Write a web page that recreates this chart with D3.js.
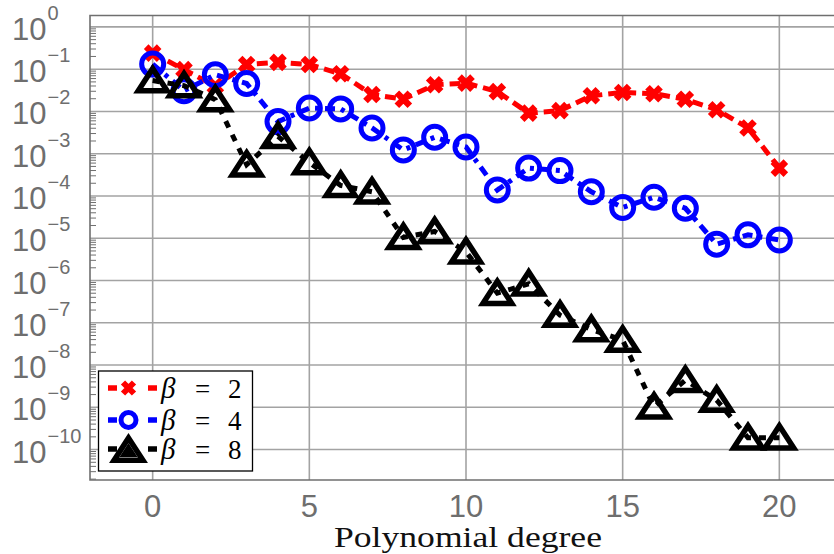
<!DOCTYPE html>
<html>
<head>
<meta charset="utf-8">
<script src="https://cdn.jsdelivr.net/npm/d3@7"></script>
<style>
  html, body { margin: 0; padding: 0; background: #fff; }
  svg { display: block; }
</style>
</head>
<body>
<svg id="chart" width="834" height="554"></svg>
<script>
// polynomial degree on x, coefficient magnitude (log10)
const degrees = d3.range(0, 21)
const beta2Exp = [-0.62, -1.01, -1.4, -0.89, -0.84, -0.89, -1.11, -1.6, -1.71, -1.37, -1.33,
  -1.53, -2.04, -1.98, -1.63, -1.55, -1.58, -1.71, -1.96, -2.39, -3.34]
const beta4Exp = [-0.88, -1.51, -1.13, -1.34, -2.24, -1.92, -1.94, -2.39, -2.91, -2.61, -2.84,
  -3.86, -3.34, -3.4, -3.9, -4.27, -4.03, -4.29, -5.14, -4.92, -5.04]
const beta8Exp = [-1.27, -1.39, -1.72, -3.26, -2.59, -3.21, -3.75, -3.9, -4.98, -4.84, -5.32,
  -6.3, -6.08, -6.82, -7.16, -7.41, -8.99, -8.36, -8.83, -9.72, -9.72]
const seriesLabels = ["2", "4", "8"]
const xTicks = [0, 5, 10, 15, 20]
const yTickExps = d3.range(0, -11, -1)

const AXIS_GRAY = "#6f6f6f"
const GRID_GRAY = "#a3a3a3"
const LABEL_GRAY = "#6e6e6e"

const svg = d3.select("#chart")
const plot = { left: 90, top: 15.5, right: 842, bottom: 480 }

const x = d3.scaleLinear().domain([-2, 22]).range([plot.left, plot.right])
const y = d3.scaleLog()
  .domain([Math.pow(10, -10.72), Math.pow(10, 0.27)])
  .range([plot.bottom, plot.top])

// grid
const grid = svg.append("g").attr("class", "grid")
grid.selectAll("line.gx").data(xTicks).join("line")
  .attr("x1", d => x(d)).attr("x2", d => x(d))
  .attr("y1", plot.top).attr("y2", plot.bottom)
  .attr("stroke", GRID_GRAY).attr("stroke-width", 1.6)
grid.selectAll("line.gy").data(yTickExps).join("line")
  .attr("x1", plot.left).attr("x2", plot.right)
  .attr("y1", d => y(Math.pow(10, d))).attr("y2", d => y(Math.pow(10, d)))
  .attr("stroke", GRID_GRAY).attr("stroke-width", 1.6)

// minor log ticks on the left spine (inside)
const minor = []
for (let e = -11; e <= 0; e++) {
  for (let m = 2; m <= 9; m++) {
    const v = m * Math.pow(10, e)
    if (v > y.domain()[0] && v < y.domain()[1]) minor.push(v)
  }
}
svg.append("g").selectAll("line").data(minor).join("line")
  .attr("x1", plot.left).attr("x2", plot.left + 6)
  .attr("y1", d => y(d)).attr("y2", d => y(d))
  .attr("stroke", AXIS_GRAY).attr("stroke-width", 1)

// frame (right side is off the page)
svg.append("path")
  .attr("d", `M${plot.right},${plot.top}H${plot.left}V${plot.bottom}H${plot.right}`)
  .attr("fill", "none").attr("stroke", AXIS_GRAY).attr("stroke-width", 1.6)

// y tick labels 10^k, left aligned
const yLab = svg.append("g").attr("font-family", "'Liberation Sans', Arial, sans-serif")
  .attr("fill", LABEL_GRAY)
yTickExps.forEach(e => {
  const t = yLab.append("text")
    .attr("x", 12).attr("y", y(Math.pow(10, e)) + 13)
    .attr("font-size", 31)
  t.append("tspan").text("10")
  t.append("tspan").attr("dx", 1).attr("dy", -20).attr("font-size", 20)
    .text(e === 0 ? "0" : "\u2212" + (-e))
})

// x tick labels
svg.append("g").selectAll("text").data(xTicks).join("text")
  .attr("x", d => x(d)).attr("y", 517)
  .attr("text-anchor", "middle")
  .attr("font-family", "'Liberation Sans', Arial, sans-serif")
  .attr("font-size", 31).attr("fill", LABEL_GRAY)
  .text(d => d)

// x axis title
svg.append("text")
  .attr("x", 468).attr("y", 547)
  .attr("text-anchor", "middle")
  .attr("font-family", "'Liberation Serif', 'Times New Roman', serif")
  .attr("font-size", 29).attr("fill", "#111")
  .attr("textLength", 268).attr("lengthAdjust", "spacingAndGlyphs")
  .text("Polynomial degree")

// marker drawing helpers
function drawCross(g, s, w) {
  g.append("path")
    .attr("d", `M${-s},${-s}L${s},${s}M${-s},${s}L${s},${-s}`)
    .attr("fill", "none").attr("stroke", "#ff0000").attr("stroke-width", w)
}
function drawCircle(g, r) {
  g.append("circle").attr("r", r)
    .attr("fill", "none").attr("stroke", "#0000ff").attr("stroke-width", 5)
}
function drawTriangle(g, s) {
  g.append("path")
    .attr("d", `M0,${-s}L${-s * 1.2},${s * 0.85}L${s * 1.2},${s * 0.85}Z`)
    .attr("fill", "none").attr("stroke", "#000").attr("stroke-width", 5.5)
    .attr("stroke-linejoin", "miter")
}

const series = [
  { exps: beta2Exp, color: "#ff0000", dash: "11,6", marker: g => drawCross(g, 6.5, 6.5) },
  { exps: beta4Exp, color: "#0000ff", dash: "10,6,4,6", marker: g => drawCircle(g, 11) },
  { exps: beta8Exp, color: "#000000", dash: "7,8", marker: g => drawTriangle(g, 12) }
]

const line = d3.line()
  .x(d => x(d[0]))
  .y(d => y(Math.pow(10, d[1])))

series.forEach(s => {
  const pts = degrees.map((d, i) => [d, s.exps[i]])
  svg.append("path").datum(pts)
    .attr("d", line)
    .attr("fill", "none").attr("stroke", s.color)
    .attr("stroke-width", 5).attr("stroke-dasharray", s.dash)
  svg.append("g").selectAll("g").data(pts).join("g")
    .attr("transform", d => `translate(${x(d[0])},${y(Math.pow(10, d[1]))})`)
    .each(function () { s.marker(d3.select(this)) })
})

// legend
const legend = svg.append("g")
legend.append("rect")
  .attr("x", 98.5).attr("y", 371).attr("width", 154).attr("height", 100)
  .attr("fill", "#fff").attr("stroke", "#000").attr("stroke-width", 1.3)
const legendY = [388, 420, 449]
const legendMarkers = [g => drawCross(g, 5.5, 6), g => drawCircle(g, 7.5), g => drawTriangle(g, 12)]
series.forEach((s, i) => {
  const ly = legendY[i]
  legend.append("path")
    .attr("d", `M108,${ly}H117M148,${ly}H157`)
    .attr("stroke", s.color).attr("stroke-width", 5.5)
  const mg = legend.append("g").attr("transform", `translate(128.5,${ly + (i === 2 ? 1 : 0)})`)
  legendMarkers[i](mg)
  if (i === 2) {
    mg.append("path").attr("d", "M0,-7L-9,7L9,7Z").attr("fill", "#000")
  }
  const t = legend.append("text")
    .attr("y", ly + 10)
    .attr("font-family", "'Liberation Serif', 'Times New Roman', serif")
    .attr("font-size", 27).attr("fill", "#000")
  t.append("tspan").attr("x", 161).attr("font-style", "italic").attr("font-size", 29).text("\u03b2")
  t.append("tspan").attr("x", 195).text("=")
  t.append("tspan").attr("x", 228).text(seriesLabels[i])
})
</script>
</body>
</html>
